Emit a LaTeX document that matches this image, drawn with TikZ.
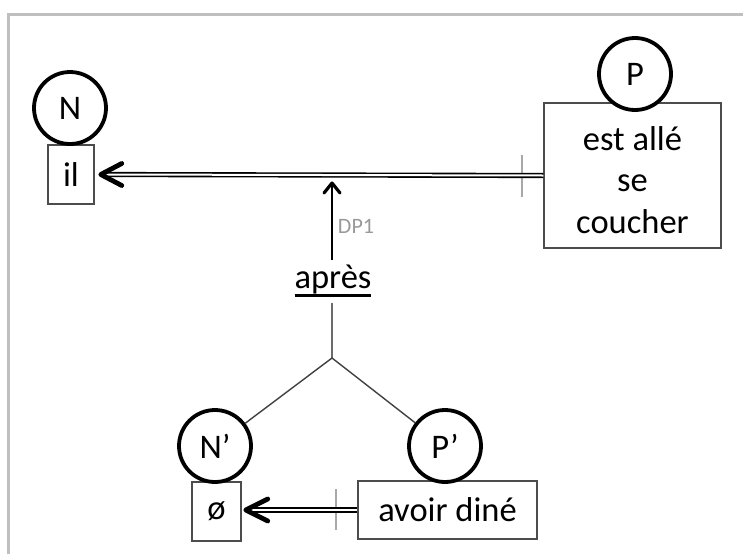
\documentclass[tikz,border=0pt]{standalone}
\usepackage{fontspec}
\setmainfont{Carlito}
\usetikzlibrary{calc}
\definecolor{boxgray}{gray}{0.3}
\definecolor{tickgray}{gray}{0.66}
\definecolor{framegray}{gray}{0.75}
\definecolor{dpgray}{gray}{0.6}
\definecolor{stemgray}{gray}{0.42}
\newcommand{\myul}[1]{\setbox0=\hbox{#1}\leavevmode\rlap{\rule[-8.5pt]{\wd0}{3pt}}\box0}
\begin{document}
\begin{tikzpicture}[x=1pt,y=-1pt,
  big/.style={font=\fontsize{34.5}{41.5}\selectfont},
  circ/.style={big, circle, draw=black, line width=3.8pt, fill=white, minimum size=72pt, inner sep=0pt},
  wbox/.style={big, rectangle, draw=boxgray, line width=1.5pt, fill=white, inner sep=0pt},
  dbl/.style={draw=black, double=white, double distance=2pt, line width=1.6pt},
  headln/.style={draw=black, line width=4.8pt, line cap=round, line join=round},
  tickln/.style={draw=tickgray, line width=2.8pt},
  branch/.style={draw=black!75, line width=1.4pt}]
\useasboundingbox (0,0) rectangle (743,554);
\draw[framegray, line width=2.2pt] (8.5,554) -- (8.5,14.5) -- (743,14.5);

% boxes
\node[wbox, minimum width=46pt, minimum height=59pt] (il) at (71,174.5) {il};
\node[wbox, minimum width=177pt, minimum height=145pt] (Pb) at (632.5,175.5) {};
\node[big, align=center, inner sep=0pt] (Pt) at (632.5,180) {est allé\\se\\coucher};
\node[wbox, minimum width=49pt, minimum height=59pt] (o) at (216.5,511.5) {ø};
\node[wbox, minimum width=179pt, minimum height=58pt] (av) at (447.5,510) {avoir diné};

% top connector
\coordinate (t1a) at (522,155);
\coordinate (t1b) at (522,197);
\draw[tickln] (t1a) -- (t1b);
\coordinate (a1) at ($(il.east)+(6,0)$);
\draw[dbl] (Pb.west) -- ($(a1)+(3,0)$);
\draw[headln] ($(a1)+(21,-11)$) -- (a1) -- ($(a1)+(21,11)$);

% bottom connector
\coordinate (ob) at (o.east |- av.west);
\coordinate (t2a) at (336,489);
\coordinate (t2b) at (336,530);
\draw[tickln] (t2a) -- (t2b);
\coordinate (a2) at ($(ob)+(4,0)$);
\draw[dbl] (av.west) -- ($(a2)+(3,0)$);
\draw[headln] ($(a2)+(22,-11)$) -- (a2) -- ($(a2)+(22,11)$);

% apres and DP1
\node[big, anchor=base, inner sep=0pt] (apres) at (333,288) {\myul{après}};
\coordinate (dp) at (332,183);
\coordinate (J) at (332,358);
\draw[line width=1.5pt, shorten <=4pt] (apres.north -| dp) -- ($(dp)+(0,1)$);
\draw[draw=black, line width=3.2pt, line cap=round, line join=round] ($(dp)+(-8,10)$) -- (dp) -- ($(dp)+(8,10)$);
\node[text=dpgray, font=\fontsize{22}{26}\selectfont, inner sep=0pt] (dp1) at (356,226) {DP1};
\draw[draw=stemgray, line width=1.4pt, shorten <=6pt] (apres.south -| J) -- (J);

% circles
\node[circ] (Np) at (215,446) {N’};
\node[circ] (Pp) at (445,446) {P’};
\draw[branch] (J) -- (Np);
\draw[branch] (J) -- (Pp);
\node[circ] (N) at (70,108) {N};
\node[circ] (P) at (635,74) {P};
\end{tikzpicture}
\end{document}
